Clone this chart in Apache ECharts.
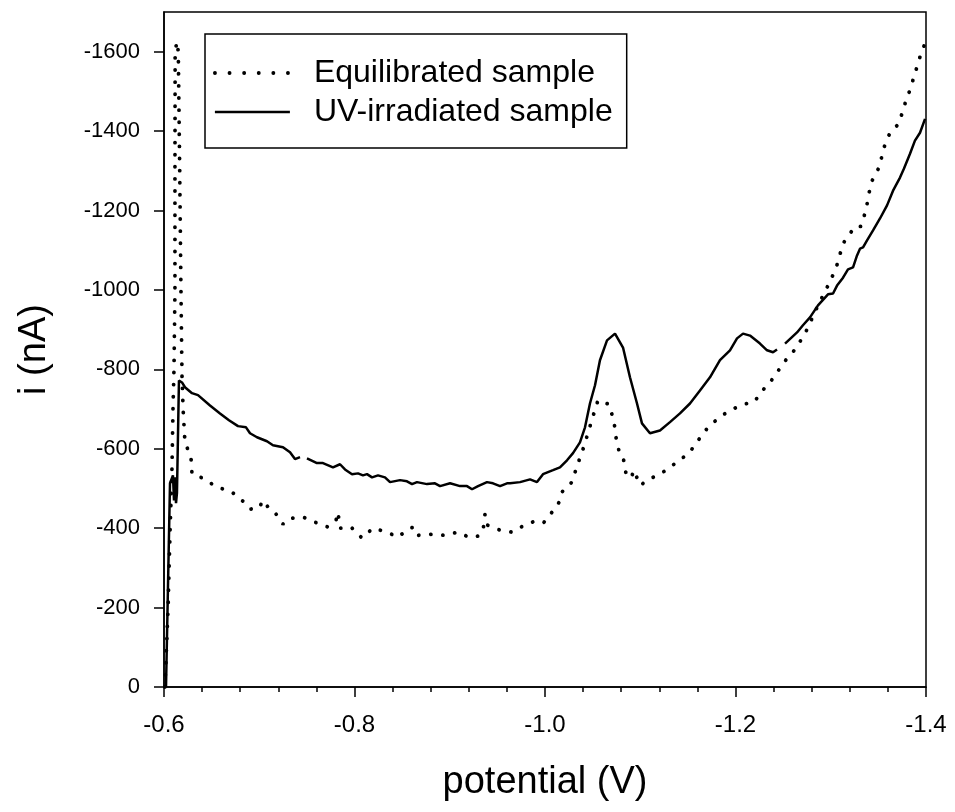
<!DOCTYPE html>
<html>
<head>
<meta charset="utf-8">
<script src="https://cdn.jsdelivr.net/npm/echarts@6/dist/echarts.min.js"></script>
<style>html,body{margin:0;padding:0;background:#fff}#chart{width:955px;height:812px}</style>
</head>
<body>
<div id="chart"></div>
<script>
// Potential (V) and current (nA)
const eqPotential = [-0.601,-0.6042,-0.6063,-0.6084,-0.6094,-0.6105,-0.6115,-0.6115,-0.6117,-0.6135,-0.615,-0.6165,-0.6178,-0.6189,-0.620,-0.621,-0.622,-0.6283,-0.6294,-0.641,-0.6556,-0.6703,-0.6829,-0.6903,-0.6997,-0.7039,-0.7102,-0.7155,-0.7249,-0.7302,-0.7407,-0.7459,-0.7554,-0.7722,-0.7806,-0.7827,-0.7848,-0.7963,-0.8079,-0.8194,-0.8341,-0.8457,-0.8562,-0.8625,-0.8667,-0.8835,-0.894,-0.9087,-0.9202,-0.9297,-0.9349,-0.937,-0.9391,-0.9528,-0.9654,-0.978,-0.9916,-0.999,-1.0052,-1.0147,-1.0178,-1.0283,-1.0336,-1.0399,-1.0451,-1.0504,-1.0556,-1.0672,-1.0724,-1.0745,-1.0777,-1.0819,-1.085,-1.0903,-1.0934,-1.0997,-1.1134,-1.1239,-1.1354,-1.1512,-1.1617,-1.1711,-1.1806,-1.1921,-1.2079,-1.2194,-1.2278,-1.2394,-1.2509,-1.2625,-1.273,-1.2803,-1.2866,-1.2971,-1.3055,-1.3129,-1.3255,-1.3318,-1.337,-1.3423,-1.3517,-1.3549,-1.3622,-1.3717,-1.3769,-1.3832,-1.3884,-1.3937,-1.398];
const eqCurrent = [0,-194,-387,-553,-697,-802,-1000,-1300,-1600,-1625,-1600,-1300,-1000,-785,-702,-659,-616,-579,-536,-526,-503,-493,-468,-448,-450,-470,-450,-443,-410,-423,-428,-428,-418,-403,-420,-440,-400,-403,-375,-400,-390,-377,-398,-403,-382,-385,-382,-390,-377,-380,-392,-435,-408,-395,-390,-407,-420,-415,-433,-465,-491,-516,-556,-599,-639,-682,-722,-712,-669,-629,-594,-581,-538,-526,-546,-508,-528,-541,-561,-589,-624,-654,-674,-694,-712,-717,-745,-777,-818,-850,-890,-928,-961,-1011,-1054,-1117,-1160,-1160,-1202,-1270,-1313,-1353,-1396,-1419,-1462,-1504,-1545,-1587,-1615];

const uvPotential = [-0.6021,-0.6063,-0.6094,-0.6105,-0.6115,-0.6126,-0.6136,-0.6157,-0.6189,-0.622,-0.6294,-0.6357,-0.6483,-0.6588,-0.6682,-0.6777,-0.6861,-0.6903,-0.6976,-0.7081,-0.7144,-0.7249,-0.7323,-0.7375,-0.7428,-0.7465,-0.7501,-0.7606,-0.7669,-0.7774,-0.7848,-0.79,-0.7974,-0.8037,-0.8089,-0.8131,-0.8184,-0.8247,-0.832,-0.8373,-0.8478,-0.8551,-0.8604,-0.8656,-0.8761,-0.8845,-0.8898,-0.9003,-0.9108,-0.9181,-0.9234,-0.9297,-0.9391,-0.9454,-0.9528,-0.9601,-0.9633,-0.9738,-0.9843,-0.9916,-0.9979,-1.0084,-1.0157,-1.0231,-1.0294,-1.0367,-1.042,-1.0472,-1.0525,-1.0577,-1.0651,-1.0735,-1.0819,-1.0892,-1.0966,-1.1018,-1.1102,-1.1207,-1.1312,-1.1417,-1.1522,-1.1627,-1.1732,-1.1837,-1.1942,-1.2016,-1.2079,-1.2152,-1.2257,-1.2331,-1.2394,-1.2436,-1.248,-1.252,-1.2646,-1.2708,-1.2782,-1.2866,-1.2971,-1.3024,-1.3066,-1.3129,-1.3181,-1.3234,-1.3276,-1.3307,-1.3339,-1.3381,-1.3444,-1.3517,-1.3591,-1.3654,-1.3727,-1.3769,-1.3832,-1.3884,-1.3937,-1.399];
const uvCurrent = [0,-513,-533,-470,-528,-463,-488,-772,-767,-755,-740,-735,-709,-689,-672,-657,-654,-639,-629,-619,-609,-604,-591,-574,-579,null,-576,-564,-564,-553,-561,-548,-536,-538,-533,-536,-528,-533,-528,-516,-521,-518,-511,-516,-511,-513,-506,-513,-506,-506,-498,-506,-516,-513,-506,-513,-513,-516,-523,-516,-536,-546,-553,-571,-589,-616,-654,-714,-760,-823,-873,-890,-855,-780,-714,-664,-639,-646,-667,-689,-714,-747,-780,-823,-848,-878,-890,-885,-865,-848,-843,-850,null,-865,-893,-911,-931,-961,-989,-991,-1011,-1031,-1052,-1057,-1087,-1104,-1107,-1125,-1150,-1180,-1213,-1250,-1283,-1306,-1343,-1376,-1396,-1431];

const seriesNames = ['Equilibrated sample', 'UV-irradiated sample'];
const xTitle = 'potential (V)';
const yTitle = 'i (nA)';

// plotted as magnitudes on axes whose labels carry the minus sign
function toPairs(xs, ys) {
  return xs.map((x, i) => [ -x, ys[i] === null ? null : -ys[i] ]);
}

const FONT = "'Liberation Sans', Arial, sans-serif";
const dotStyle = { color: '#000', width: 3.8, type: [0.1, 12], cap: 'round' };
const solidStyle = { color: '#000', width: 2.5, type: 'solid' };
const chart = echarts.init(document.getElementById('chart'), null, {renderer: 'canvas'});
chart.setOption({
  animation: false,
  backgroundColor: '#fff',
  grid: { left: 164, right: 29, top: 12, bottom: 125, show: true, borderColor: '#000', borderWidth: 1.5 },
  legend: {
    orient: 'vertical', left: 205, top: 34,
    padding: [23, 14, 20, 8],
    itemWidth: 75, itemHeight: 14, itemGap: 7,
    borderColor: '#000', borderWidth: 1.5,
    itemStyle: { opacity: 0 },
    textStyle: { fontFamily: FONT, fontSize: 32, lineHeight: 32, color: '#000', padding: [0, 0, 0, 19] },
    data: [
      { name: seriesNames[0], lineStyle: { color: '#000', width: 3.8, type: [0.1, 14.5], cap: 'round' } },
      { name: seriesNames[1], lineStyle: { color: '#000', width: 2.5, type: 'solid' } }
    ]
  },
  xAxis: {
    type: 'value', min: 0.6, max: 1.4, interval: 0.2,
    name: xTitle, nameLocation: 'middle', nameGap: 77,
    nameTextStyle: { fontFamily: FONT, fontSize: 38, color: '#000' },
    axisLine: { show: true, lineStyle: { color: '#000', width: 1.5 } },
    axisTick: { show: true, inside: false, length: 10, lineStyle: { color: '#000', width: 1.5 } },
    minorTick: { show: true, splitNumber: 5, length: 5, lineStyle: { color: '#000', width: 1.5 } },
    splitLine: { show: false },
    axisLabel: { fontFamily: FONT, fontSize: 24, color: '#000', margin: 26,
      formatter: v => '-' + v.toFixed(1) }
  },
  yAxis: {
    type: 'value', min: 0, max: 1700, interval: 200,
    name: yTitle, nameLocation: 'middle', nameGap: 110, nameRotate: 90,
    nameTextStyle: { fontFamily: FONT, fontSize: 38, color: '#000' },
    axisLine: { show: true, lineStyle: { color: '#000', width: 1.5 } },
    axisTick: { show: true, inside: false, length: 10, lineStyle: { color: '#000', width: 1.5 } },
    splitLine: { show: false },
    axisLabel: { fontFamily: FONT, fontSize: 22, color: '#000', margin: 24, showMaxLabel: false,
      formatter: v => v === 0 ? '0' : '-' + v }
  },
  series: [
    {
      name: seriesNames[0], type: 'line', symbol: 'none', connectNulls: false,
      data: toPairs(eqPotential, eqCurrent),
      lineStyle: dotStyle,
      itemStyle: { color: '#000' }
    },
    {
      name: seriesNames[1], type: 'line', symbol: 'none', connectNulls: false,
      data: toPairs(uvPotential, uvCurrent),
      lineStyle: solidStyle,
      itemStyle: { color: '#000' }
    }
  ]
});
</script>
</body>
</html>
